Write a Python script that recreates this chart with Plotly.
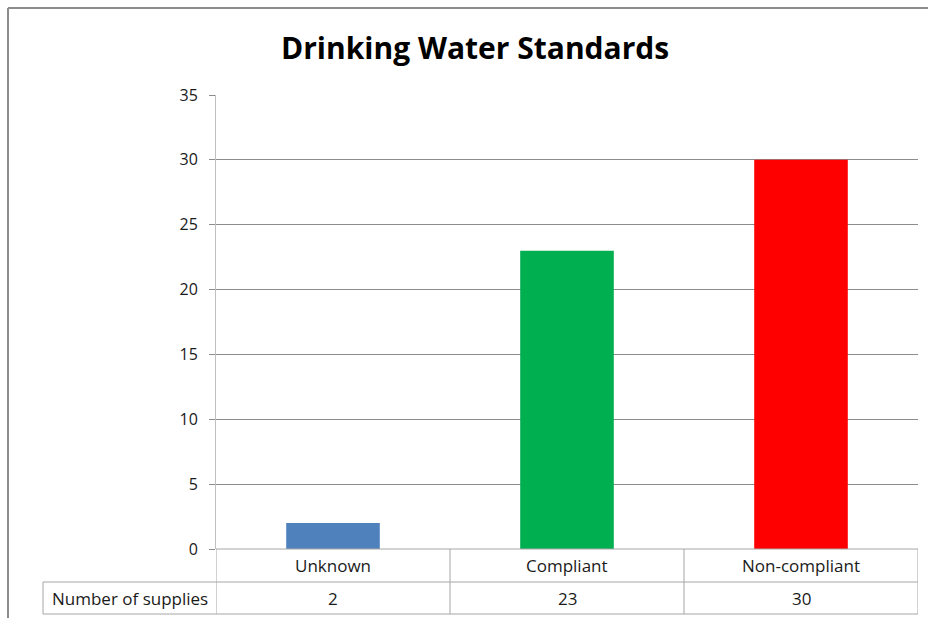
import plotly.graph_objects as go

# chart data
categories = ["Unknown", "Compliant", "Non-compliant"]
supplies = [2, 23, 30]
bar_colors = ["#4F81BD", "#00B050", "#FF0000"]
row_label = "Number of supplies"
y_ticks = [0, 5, 10, 15, 20, 25, 30, 35]

FONT = "Open Sans"
GRID = "#8C8C8C"
TABLE = "#A6A6A6"
TEXT = "#1A1A1A"

fig = go.Figure()
fig.add_trace(
    go.Bar(
        x=categories,
        y=supplies,
        marker=dict(color=bar_colors, line=dict(width=0)),
        width=0.4,
        showlegend=False,
    )
)

# data table below the plot area (paper coords: 0 = axis line)
row1 = -0.0727
row2 = -0.1432
left = -0.2464

shapes = []
# horizontal table lines
for yv, x0 in [(0, 0), (row1, left), (row2, left)]:
    shapes.append(dict(type="line", xref="paper", yref="paper", x0=x0, x1=1, y0=yv, y1=yv,
                       line=dict(color=TABLE, width=1)))
# vertical table lines
for xv in [-0.5, 0.5, 1.5, 2.5]:
    shapes.append(dict(type="line", xref="x", yref="paper", x0=xv, x1=xv, y0=row2, y1=0,
                       line=dict(color=TABLE, width=1)))
shapes.append(dict(type="line", xref="paper", yref="paper", x0=left, x1=left, y0=row2, y1=row1,
                   line=dict(color=TABLE, width=1)))
# chart border (top and left edges of the chart area)
shapes.append(dict(type="line", xref="paper", yref="paper", x0=-0.2963, x1=1.02, y0=1.1916, y1=1.1916,
                   line=dict(color="#8C8C8C", width=2)))
shapes.append(dict(type="line", xref="paper", yref="paper", x0=-0.2963, x1=-0.2963, y0=-0.2, y1=1.1916,
                   line=dict(color="#8C8C8C", width=2)))

annotations = []
for cat, val in zip(categories, supplies):
    annotations.append(dict(x=cat, y=row1 / 2, xref="x", yref="paper", text=cat, showarrow=False,
                            xanchor="center", yanchor="middle",
                            font=dict(family=FONT, size=17, color=TEXT)))
    annotations.append(dict(x=cat, y=(row1 + row2) / 2, xref="x", yref="paper", text=str(val),
                            showarrow=False, xanchor="center", yanchor="middle",
                            font=dict(family=FONT, size=17, color=TEXT)))
annotations.append(dict(x=left / 2, y=(row1 + row2) / 2, xref="paper", yref="paper", text=row_label,
                        showarrow=False, xanchor="center", yanchor="middle",
                        font=dict(family=FONT, size=17, color=TEXT)))

fig.update_layout(
    width=928,
    height=618,
    margin=dict(l=216, r=10, t=95, b=69),
    paper_bgcolor="white",
    plot_bgcolor="white",
    title=dict(
        text="<b>Drinking Water Standards</b>",
        x=0.512,
        xanchor="center",
        y=0.922,
        yanchor="middle",
        font=dict(family=FONT, size=30, color="black"),
    ),
    xaxis=dict(
        range=[-0.5, 2.5],
        showticklabels=False,
        showgrid=False,
        showline=False,
        zeroline=False,
        ticks="",
    ),
    yaxis=dict(
        range=[0, 35],
        tickvals=y_ticks,
        showgrid=True,
        gridcolor=GRID,
        gridwidth=1,
        zeroline=False,
        showline=True,
        linecolor="#BFBFBF",
        linewidth=1,
        ticks="outside",
        ticklen=6,
        tickcolor=GRID,
        ticklabelstandoff=8,
        tickfont=dict(family=FONT, size=16, color=TEXT),
    ),
    shapes=shapes,
    annotations=annotations,
    bargap=0.6,
)

# drop the default page margin so the figure sits at the window's corner
fig.write_html(
    "out.html",
    config={"displayModeBar": False},
    post_script="document.body.style.margin='0';",
)
